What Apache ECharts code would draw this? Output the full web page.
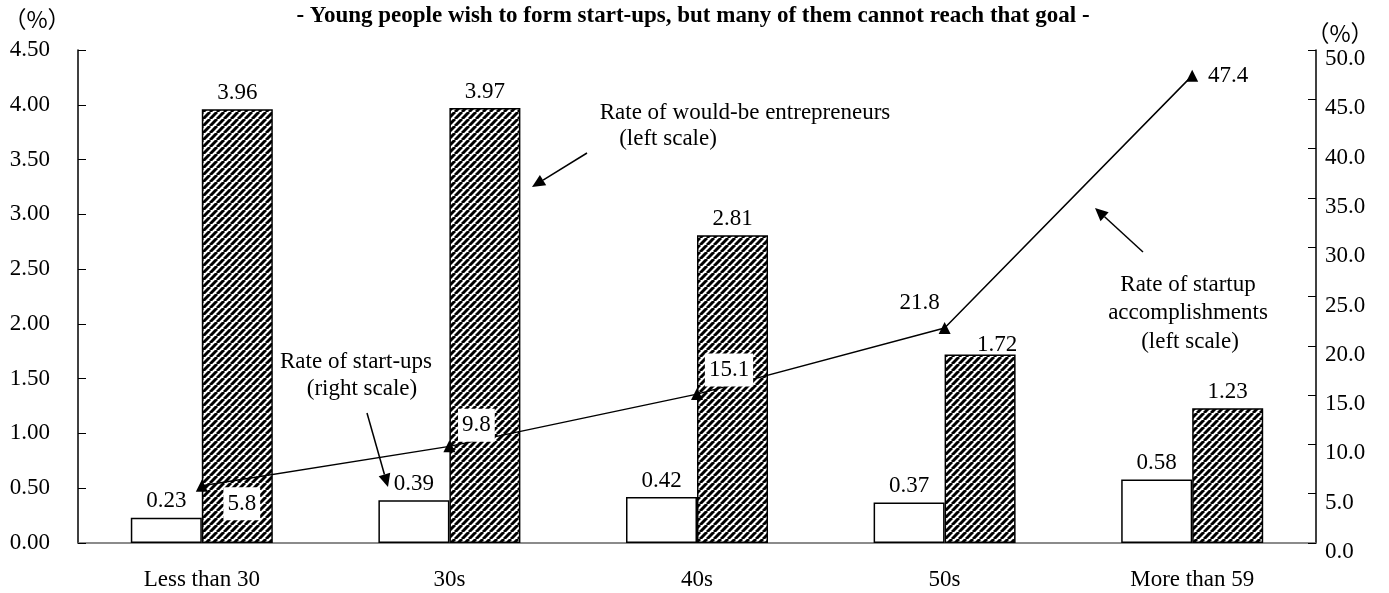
<!DOCTYPE html>
<html>
<head>
<meta charset="utf-8">
<script src="https://cdn.jsdelivr.net/npm/echarts@6/dist/echarts.min.js"></script>
<style>
  html, body { margin: 0; padding: 0; background: #fff; }
  #chart { width: 1389px; height: 593px; }
</style>
</head>
<body>
<div id="chart"></div>
<script>
// Age groups along the horizontal axis
const categories = ['Less than 30', '30s', '40s', '50s', 'More than 59'];
// Rate of startup accomplishments (%, left scale) – white bars
const accomplishRate = [0.23, 0.39, 0.42, 0.37, 0.58];
// Rate of would-be entrepreneurs (%, left scale) – hatched bars
const wouldBeRate = [3.96, 3.97, 2.81, 1.72, 1.23];
// Rate of start-ups (%, right scale) – line
const startupRate = [5.8, 9.8, 15.1, 21.8, 47.4];

const FONT = "'Liberation Serif', 'Times New Roman', serif";
const UNIT_FONT = "'Noto Sans CJK JP', 'Liberation Sans', sans-serif";
const FS = 23;

// Diagonal hatch tile for the would-be bars
function hatchPattern() {
  const s = 7;
  const c = document.createElement('canvas');
  c.width = s; c.height = s;
  const ctx = c.getContext('2d');
  ctx.fillStyle = '#fff';
  ctx.fillRect(0, 0, s, s);
  ctx.strokeStyle = '#000';
  ctx.lineWidth = 3;
  for (let k = -1; k <= 1; k++) {
    ctx.beginPath();
    ctx.moveTo(k * s, s);
    ctx.lineTo(k * s + s, 0);
    ctx.stroke();
  }
  return { image: c, repeat: 'repeat' };
}

// Per-point label placement for the line series
const lineLabelOffsets = [[40, 18], [27, -21], [32, -24], [-25, -25], [36, 0]];
const lineLabelBoxed = [true, true, true, false, false];

// Callout arrow: shaft plus filled head at (x2, y2)
function arrow(x1, y1, x2, y2) {
  const ang = Math.atan2(y2 - y1, x2 - x1);
  const len = 13, half = 6;
  const bx = x2 - len * Math.cos(ang), by = y2 - len * Math.sin(ang);
  const px = -Math.sin(ang) * half, py = Math.cos(ang) * half;
  return [
    { type: 'line', silent: true,
      shape: { x1: x1, y1: y1, x2: bx, y2: by },
      style: { stroke: '#000', lineWidth: 1.5 } },
    { type: 'polygon', silent: true,
      shape: { points: [[x2, y2], [bx + px, by + py], [bx - px, by - py]] },
      style: { fill: '#000' } }
  ];
}

function txt(text, x, y, font) {
  return {
    type: 'text', silent: true, x: x, y: y,
    style: { text: text, font: font || (FS + 'px ' + FONT), fill: '#000',
             align: 'center', verticalAlign: 'middle' }
  };
}

const chart = echarts.init(document.getElementById('chart'), null, { renderer: 'canvas' });

const option = {
  backgroundColor: '#fff',
  animation: false,
  textStyle: { fontFamily: FONT },
  grid: { left: 78, right: 73, top: 50, bottom: 50, containLabel: false },
  xAxis: {
    type: 'category',
    data: categories,
    axisLine: { lineStyle: { color: '#666', width: 1.5 } },
    axisTick: { inside: true, length: 7, lineStyle: { color: '#000' } },
    axisLabel: { color: '#000', fontSize: FS, fontFamily: FONT, margin: 25 }
  },
  yAxis: [
    {
      type: 'value', min: 0, max: 4.5, interval: 0.5,
      splitLine: { show: false },
      axisLine: { show: true, lineStyle: { color: '#000', width: 1.5 } },
      axisTick: { show: true, inside: true, length: 8, lineStyle: { color: '#000' } },
      axisLabel: { color: '#000', fontSize: FS, fontFamily: FONT, margin: 28,
                   formatter: v => v.toFixed(2) }
    },
    {
      type: 'value', min: 0, max: 50, interval: 5, position: 'right',
      splitLine: { show: false },
      axisLine: { show: true, lineStyle: { color: '#000', width: 1.5 } },
      axisTick: { show: true, inside: true, length: 8, lineStyle: { color: '#000' } },
      axisLabel: { color: '#000', fontSize: FS, fontFamily: FONT, margin: 9,
                   verticalAlign: 'top', lineHeight: 18,
                   formatter: v => v.toFixed(1) }
    }
  ],
  series: [
    {
      name: 'Rate of startup accomplishments',
      type: 'bar', yAxisIndex: 0,
      barWidth: 71, barGap: '0%',
      itemStyle: { color: '#fff', borderColor: '#000', borderWidth: 1.5 },
      label: { show: true, position: 'top', distance: 5, color: '#000',
               fontSize: FS, fontFamily: FONT, formatter: p => p.value.toFixed(2) },
      data: accomplishRate
    },
    {
      name: 'Rate of would-be entrepreneurs',
      type: 'bar', yAxisIndex: 0,
      barWidth: 71, barGap: '0%',
      itemStyle: { color: hatchPattern(), borderColor: '#000', borderWidth: 1.5 },
      label: { show: true, position: 'top', distance: 5, color: '#000',
               fontSize: FS, fontFamily: FONT, formatter: p => p.value.toFixed(2) },
      data: wouldBeRate.map((v, i) => i === 3
        ? { value: v, label: { offset: [17, 7] } }
        : v)
    },
    {
      name: 'Rate of start-ups',
      type: 'line', yAxisIndex: 1, z: 5,
      symbol: 'triangle', symbolSize: 12,
      lineStyle: { color: '#000', width: 1.5 },
      itemStyle: { color: '#000' },
      data: startupRate.map((v, i) => ({
        value: v,
        label: {
          show: true, position: 'inside',
          offset: lineLabelOffsets[i],
          color: '#000', fontSize: FS, fontFamily: FONT,
          backgroundColor: lineLabelBoxed[i] ? '#fff' : 'transparent',
          padding: [5, 4, 5, 4],
          formatter: p => p.value.toFixed(1)
        }
      }))
    }
  ],
  graphic: [
    // subtitle and unit captions
    txt('- Young people wish to form start-ups, but many of them cannot reach that goal -', 693, 16,
        'bold ' + FS + 'px ' + FONT),
    txt('（%）', 37, 19, '23px ' + UNIT_FONT),
    txt('（%）', 1340, 33, '23px ' + UNIT_FONT),
    // callout: would-be entrepreneurs
    txt('Rate of would-be entrepreneurs', 745, 113),
    txt('(left scale)', 668, 139),
    ...arrow(587, 153, 532, 187),
    // callout: start-ups
    txt('Rate of start-ups', 356, 362),
    txt('(right scale)', 362, 389),
    ...arrow(367, 413, 388, 487),
    // callout: startup accomplishments
    txt('Rate of startup', 1188, 285),
    txt('accomplishments', 1188, 313),
    txt('(left scale)', 1190, 342),
    ...arrow(1143, 252, 1095, 208)
  ]
};

chart.setOption(option);
</script>
</body>
</html>
